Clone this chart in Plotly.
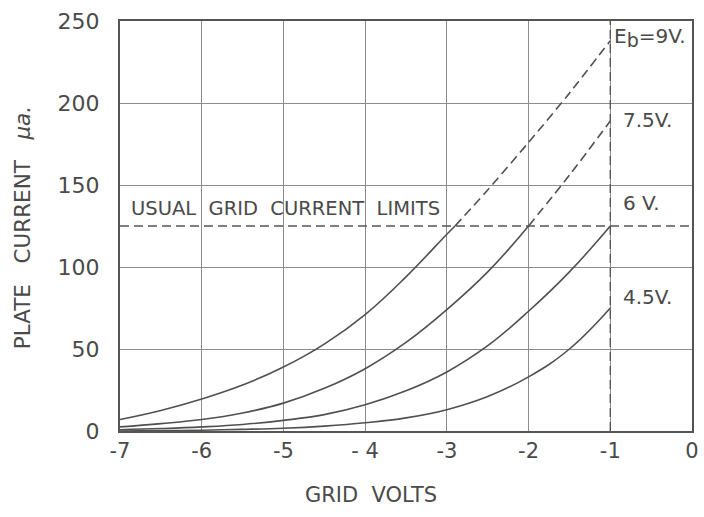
import plotly.graph_objects as go

# ---- data ----
eb9_solid_x = [-7, -6.5, -6, -5.5, -5, -4.5, -4, -3.5, -3, -2.9]
eb9_solid_y = [7, 12.5, 19.5, 28, 39, 53, 71, 94, 120, 125]
eb9_dash_x = [-2.9, -2.5, -2, -1.5, -1]
eb9_dash_y = [125, 147, 176, 206, 238]

eb75_solid_x = [-7, -6.5, -6, -5.5, -5, -4.5, -4, -3.5, -3, -2.5, -2]
eb75_solid_y = [2.5, 4.5, 7, 11, 17, 26, 38, 54, 74, 97, 125]
eb75_dash_x = [-2, -1.5, -1]
eb75_dash_y = [125, 156, 189]

eb6_x = [-7, -6.5, -6, -5.5, -5, -4.5, -4, -3.5, -3, -2.5, -2, -1.5, -1]
eb6_y = [0.8, 1.5, 2.5, 4, 6.5, 10, 16, 24.5, 36, 52, 73, 97, 125]

eb45_x = [-7, -6.5, -6, -5.5, -5, -4.5, -4, -3.5, -3, -2.5, -2, -1.5, -1]
eb45_y = [0, 0.2, 0.5, 1, 1.7, 3, 5, 8, 13, 21, 33, 50, 75]

limit_current = 125
limit_grid_v = -1
series_labels = ["7.5V.", "6 V.", "4.5V."]
series_label_y = [188, 125, 75]
series_label_shift = [3, 23, 11]

x_ticks = [-7, -6, -5, -4, -3, -2, -1, 0]
x_ticktext = ["-7", "-6", "-5", "- 4", "-3", "-2", "-1", "0"]
y_ticks = [0, 50, 100, 150, 200, 250]

INK = "#4a4a4a"
FONT = "DejaVu Sans"

fig = go.Figure()
solid = dict(color="#505050", width=1.6, shape="spline", smoothing=1.2)
dashed = dict(color="#505050", width=1.6, dash="9px,5px", shape="spline", smoothing=0.8)

fig.add_trace(go.Scatter(x=eb9_solid_x, y=eb9_solid_y, mode="lines", line=solid))
fig.add_trace(go.Scatter(x=eb9_dash_x, y=eb9_dash_y, mode="lines", line=dashed))
fig.add_trace(go.Scatter(x=eb75_solid_x, y=eb75_solid_y, mode="lines", line=solid))
fig.add_trace(go.Scatter(x=eb75_dash_x, y=eb75_dash_y, mode="lines", line=dashed))
fig.add_trace(go.Scatter(x=eb6_x, y=eb6_y, mode="lines", line=solid))
fig.add_trace(go.Scatter(x=eb45_x, y=eb45_y, mode="lines", line=solid))

# grid current limit lines
fig.add_trace(go.Scatter(x=[-7, 0], y=[limit_current, limit_current], mode="lines",
                         line=dict(color="#555555", width=1.4, dash="9px,5px")))
fig.add_trace(go.Scatter(x=[limit_grid_v, limit_grid_v], y=[0, 250], mode="lines",
                         line=dict(color="#555555", width=1.4, dash="9px,5px")))

ann = []
ann.append(dict(x=limit_grid_v, y=238, xref="x", yref="y",
                text="E<sub><span style='font-size:19px'>b</span></sub>=9V.",
                showarrow=False, xanchor="left", yanchor="middle", xshift=2, yshift=3,
                font=dict(size=20, color=INK, family=FONT)))
for t, yy, sh in zip(series_labels, series_label_y, series_label_shift):
    ann.append(dict(x=limit_grid_v, y=yy, xref="x", yref="y", text=t, showarrow=False,
                    xanchor="left", yanchor="middle", xshift=11, yshift=sh,
                    font=dict(size=20, color=INK, family=FONT)))
ann.append(dict(x=-7, y=limit_current, xref="x", yref="y", text="USUAL  GRID  CURRENT  LIMITS",
                showarrow=False, xanchor="left", yanchor="middle", xshift=9, yshift=18,
                font=dict(size=19.5, color=INK, family=FONT)))
ann.append(dict(x=0.439, y=-0.156, xref="paper", yref="paper", text="GRID  VOLTS", showarrow=False,
                xanchor="center", yanchor="middle",
                font=dict(size=21, color=INK, family=FONT)))
ann.append(dict(x=-0.171, y=0.495, xref="paper", yref="paper", text="PLATE   CURRENT   <i>μa.</i>",
                showarrow=False, textangle=-90, xanchor="center", yanchor="middle",
                font=dict(size=21.5, color=INK, family=FONT)))

fig.update_layout(
    width=704, height=517,
    margin=dict(l=120, r=12, t=21, b=86),
    paper_bgcolor="white", plot_bgcolor="white",
    showlegend=False,
    annotations=ann,
    xaxis=dict(range=[-7, 0], tickvals=x_ticks, ticktext=x_ticktext, automargin=False,
               showgrid=True, gridcolor="#8c8c8c", gridwidth=1, zeroline=False,
               showline=True, linecolor="#555555", linewidth=2, mirror=True,
               ticks="", ticklabelstandoff=0,
               tickfont=dict(size=21, color=INK, family=FONT)),
    yaxis=dict(range=[0, 250], tickvals=y_ticks, automargin=False,
               showgrid=True, gridcolor="#8c8c8c", gridwidth=1, zeroline=False,
               showline=True, linecolor="#555555", linewidth=2, mirror=True,
               ticks="", ticklabelstandoff=14,
               tickfont=dict(size=22, color=INK, family=FONT)),
)

fig.write_html("out.html", config={"displayModeBar": False},
               post_script="document.body.style.margin='0';")
